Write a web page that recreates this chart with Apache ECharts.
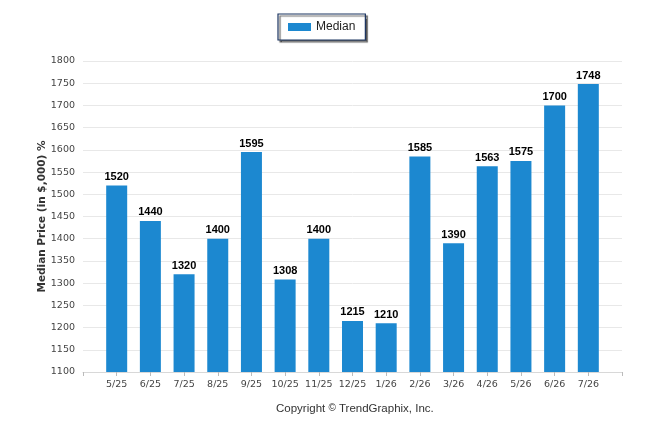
<!DOCTYPE html>
<html>
<head>
<meta charset="utf-8">
<script src="https://cdn.jsdelivr.net/npm/echarts@6/dist/echarts.min.js"></script>
<style>
  html, body { margin: 0; padding: 0; background: #fff; }
  #chart { width: 646px; height: 434px; }
</style>
</head>
<body>
<div id="chart"></div>
<script>
// months shown on the x axis, padded with an empty slot at both ends
const months = ['5/25', '6/25', '7/25', '8/25', '9/25', '10/25', '11/25', '12/25',
  '1/26', '2/26', '3/26', '4/26', '5/26', '6/26', '7/26']
// median price per month, in $,000
const medianValues = [1520, 1440, 1320, 1400, 1595, 1308, 1400, 1215,
  1210, 1585, 1390, 1563, 1575, 1700, 1748]
const yTicks = { min: 1100, max: 1800, step: 50 }

const categories = [''].concat(months, [''])
const barData = [null].concat(medianValues, [null])

const chart = echarts.init(document.getElementById('chart'))

const option = {
  animation: false,
  textStyle: { fontFamily: 'DejaVu Sans, Verdana, sans-serif' },
  legend: {
    data: ['Median'],
    icon: 'rect',
    left: 278,
    top: 14,
    padding: [7, 10, 7, 10],
    itemWidth: 23,
    itemHeight: 8,
    itemGap: 5,
    borderColor: '#1b3461',
    borderWidth: 1.2,
    borderRadius: 0,
    backgroundColor: '#fff',
    shadowColor: 'rgba(0,0,0,0.6)',
    shadowBlur: 1,
    shadowOffsetX: 2,
    shadowOffsetY: 2,
    textStyle: { fontSize: 12, color: '#222', fontFamily: 'Liberation Sans, Arial, sans-serif' },
  },
  grid: {
    left: 83,
    right: 24,
    top: 61,
    bottom: 62,
    containLabel: false,
  },
  xAxis: {
    type: 'category',
    data: categories,
    boundaryGap: false,
    axisLine: { lineStyle: { color: '#d8d8d8', width: 1 } },
    axisTick: { show: true, length: 4, interval: 0, lineStyle: { color: '#bbb', width: 1 } },
    axisLabel: { color: '#444', fontSize: 9.5, margin: 8, interval: 0 },
    splitLine: { show: false },
  },
  yAxis: {
    type: 'value',
    min: yTicks.min,
    max: yTicks.max,
    interval: yTicks.step,
    name: 'Median Price (in $,000) %',
    nameLocation: 'middle',
    nameGap: 35,
    nameMoveOverlap: false,
    nameRotate: 90,
    nameTextStyle: { fontSize: 10.5, fontWeight: 'bold', color: '#333' },
    axisLine: { show: false },
    axisTick: { show: false },
    axisLabel: { color: '#444', fontSize: 9.5, margin: 8, formatter: v => String(v) },
    splitLine: { lineStyle: { color: '#e8e8e8', width: 1 } },
  },
  series: [
    {
      name: 'Median',
      type: 'bar',
      data: barData,
      barWidth: 21,
      itemStyle: { color: '#1c88d0' },
      label: {
        show: true,
        position: 'top',
        distance: 3,
        color: '#000',
        fontWeight: 'bold',
        fontSize: 11,
        fontFamily: 'Liberation Sans, Arial, sans-serif',
      },
    },
  ],
  graphic: [
    {
      type: 'text',
      left: 276,
      top: 403,
      style: {
        text: 'Copyright {sup|©} TrendGraphix, Inc.',
        fill: '#333',
        fontSize: 11.5,
        fontFamily: 'Liberation Sans, Arial, sans-serif',
        rich: {
          sup: { fontSize: 10, verticalAlign: 'top', padding: [0, 0, 2, 0], fill: '#333' },
        },
      },
    },
  ],
}

chart.setOption(option)
</script>
</body>
</html>
